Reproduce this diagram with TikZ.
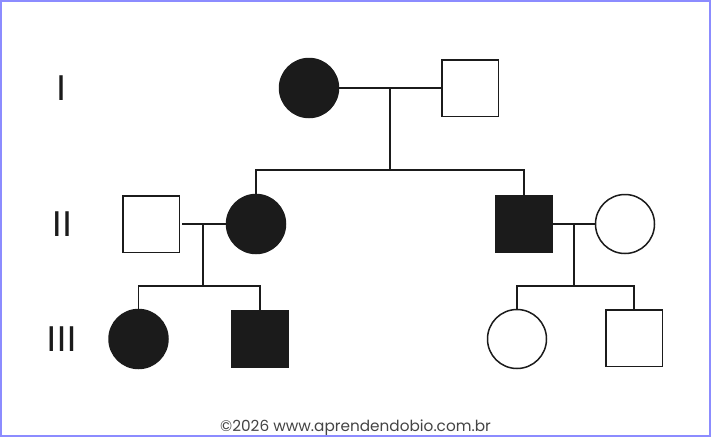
\documentclass[tikz,border=0pt]{standalone}
\usepackage{fontspec}
\setmainfont{Liberation Sans}
\newfontfamily\footfont{Poppins}
\usetikzlibrary{calc}
\definecolor{ink}{HTML}{1B1B1B}
\definecolor{frame}{HTML}{8C8CFF}
\definecolor{foot}{HTML}{444444}
\tikzset{
  person/.style={draw=ink, line width=1.5pt, inner sep=0pt},
  female/.style={person, circle, minimum size=59pt},
  male/.style={person, rectangle, minimum size=56.5pt},
  aff/.style={fill=ink},
  unaff/.style={fill=white},
  link/.style={draw=ink, line width=1.6pt},
  mate/.style={draw=ink, line width=2pt},
  mateb/.style={draw=ink, line width=2.8pt},
  gen/.style={font=\fontsize{36}{36}\selectfont, text=ink, inner sep=0pt},
}
\begin{document}
\begin{tikzpicture}[x=1pt,y=-1pt]
\useasboundingbox (0,0) rectangle (711,437);
\draw[frame, line width=2pt] (1,1) rectangle (710,436);
% generation labels
\node[gen] (g1) at (61,88) {I};
\node[gen] (g2) at (62,224) {II};
\node[gen] (g3) at (61.5,339) {III};
% generation I
\node[female, aff] (A) at (309,88) {};
\node[male, unaff] (B) at (470,88) {};
% generation II
\node[male, unaff] (E) at (151,224) {};
\node[female, aff] (C) at (256,224) {};
\node[male, aff] (D) at (524,224) {};
\node[female, unaff] (H) at (625,224) {};
% generation III
\node[female, aff] (F) at (138.5,339) {};
\node[male, aff] (G) at (260,338.5) {};
\node[female, unaff] (J) at (517,339) {};
\node[male, unaff] (K) at (634,338) {};
% coordinates
\coordinate (m1) at ($(A.east)!0.5!(B.west)$);
\coordinate (s1) at (m1 |- 0,170);
\coordinate (m2) at ($(E.east)!0.5!(C.west)$);
\coordinate (s2) at (m2 |- 0,286);
\coordinate (m3) at ($(D.east)!0.5!(H.west)$);
\coordinate (s3) at (m3 |- 0,286);
% connectors
\draw[mate] (A.east) -- (B.west);
\draw[link] (m1) -- (s1);
\draw[link] (C.north) |- (s1) -| (D.north);
\draw[mateb] ([xshift=2pt]E.east) -- (C.west);
\draw[link] (m2) -- (s2);
\draw[link] (F.north) |- (s2) -| (G.north);
\draw[mateb] (D.east) -- (H.west);
\draw[link] (m3) -- (s3);
\draw[link] (J.north) |- (s3) -| (K.north);
% footer
\node[font=\footfont\fontsize{15.3}{15.3}\selectfont, text=foot, anchor=base west, inner sep=0pt] (ft) at (220,431) {©2026 www.aprendendobio.com.br};
\end{tikzpicture}
\end{document}
